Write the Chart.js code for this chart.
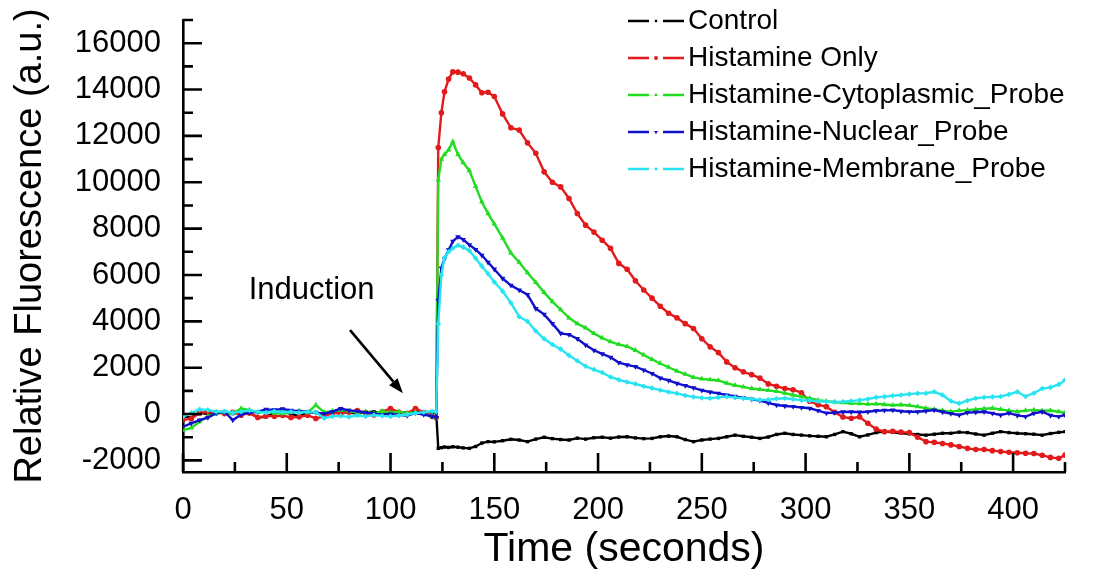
<!DOCTYPE html>
<html>
<head>
<meta charset="utf-8">
<title>Relative Fluorescence</title>
<script src="https://cdn.jsdelivr.net/npm/chart.js@4.4.0/dist/chart.umd.min.js"></script>
<style>
    html, body { margin: 0; padding: 0; background: #fff; }
    #wrap { width: 1095px; height: 588px; }
</style>
</head>
<body>
<div id="wrap"><canvas id="chart" width="1095" height="588"></canvas></div>
<script>
// Tempo de amostragem (segundos)
const timeSeconds = [
    0, 4, 8, 12, 16, 20, 24, 28, 32, 36, 40, 44, 48, 52, 56, 60, 64, 68, 72, 76,
    80, 84, 88, 92, 96, 100, 104, 108, 112, 116, 120, 122,
    123, 124.5, 126, 128, 130, 132.5, 135, 138, 141, 144, 147, 150,
    154, 158, 162, 166, 170, 174, 178, 182, 186, 190, 194, 198, 202, 206, 210, 214, 218, 222, 226, 230,
    234, 238, 242, 246, 250, 254, 258, 262, 266, 270, 274, 278, 282, 286, 290, 294, 298, 302, 306, 310,
    314, 318, 322, 326, 330, 334, 338, 342, 346, 350, 354, 358, 362, 366, 370, 374, 378, 382, 386, 390,
    394, 398, 402, 406, 410, 414, 418, 422, 425
];

const controlValues = [
    -100, -150, 50, 0, 80, 60, 20, 100, 60, -150, -120, 50, 80, 20, -100, 60, 80, -50, 40, 100,
    60, 20, 80, 100, 40, 60, 90, 50, 100, 90, 80, 80,
    -1480, -1450, -1420, -1440, -1410, -1430, -1460, -1480, -1400, -1250, -1190, -1200,
    -1150, -1090, -1120, -1190, -1080, -1000, -1060, -1100, -1120, -1040, -1080, -1020, -1000, -1040, -990, -980, -1030, -1060, -1050, -980,
    -950, -980, -1100, -1190, -1120, -1080, -1050, -980, -910, -960, -1000, -1050, -990, -880, -830, -880, -910, -940, -960, -980,
    -880, -760, -850, -980, -900, -800, -760, -790, -830, -850, -880, -910, -870, -830, -830, -780, -800, -860, -910, -830,
    -760, -800, -830, -850, -870, -910, -840, -790, -760
];

const histamineOnlyValues = [
    -250, -200, 50, 100, 60, 20, 80, -50, 50, -150, -80, -100, -60, -150, -120, -50, -190, -100, 50, 20,
    80, 150, 60, -40, 100, 240, 80, 20, 240, 60, -100, -160,
    11500, 13000, 13900, 14450, 14760, 14750, 14680, 14500, 14200, 13860, 13880, 13700,
    12950, 12350, 12250, 11700, 11250, 10450, 10000, 9800, 9300, 8650, 8150, 7850, 7500, 7150, 6500, 6250, 5750, 5350, 5000, 4650,
    4350, 4150, 3900, 3690, 3250, 2900, 2650, 2250, 2000, 1820, 1700, 1550, 1300, 1200, 1100, 1050, 920, 550, 400, 320,
    80, -130, -180, -120, -400, -650, -760, -740, -780, -800, -1000, -1190, -1220, -1270, -1330, -1400, -1480, -1530, -1530, -1580,
    -1620, -1650, -1670, -1690, -1700, -1780, -1870, -1910, -1770
];

const cytoplasmicValues = [
    -690, -600, -330, -100, 20, 80, 40, 240, 180, 60, 120, 40, 20, 80, 140, 60, 390, 80, 120, 170,
    140, 60, 100, 30, 120, 60, 100, 40, 80, 0, -100, -170,
    10100, 11000, 11200, 11400, 11750, 11200, 10850, 10500, 9820, 9150, 8650, 8200,
    7600, 6950, 6550, 6100, 5680, 5250, 4850, 4500, 4150, 3900, 3720, 3480, 3280, 3120, 3000, 2920, 2750, 2550, 2360, 2180,
    2020, 1850, 1720, 1580, 1520, 1480, 1450, 1330, 1240, 1170, 1100, 1060, 1020, 980, 900, 820, 750, 680, 600, 550,
    520, 490, 460, 450, 430, 440, 410, 380, 400, 370, 320, 250, 200, 150, 100, 150, 170, 200, 230, 250,
    200, 150, 100, 150, 180, 140, 150, 100, 60
];

const nuclearValues = [
    -545, -400, -260, -150, 40, 100, -260, -20, 60, 100, 200, 180, 220, 160, 120, 100, 60, 20, 100, 240,
    160, 120, 60, 20, -40, 0, -40, -60, 40, -20, -100, -150,
    4900, 6300, 6700, 7080, 7450, 7650, 7530, 7300, 7100, 6850, 6550, 6250,
    5850, 5550, 5350, 5150, 4550, 4300, 3900, 3480, 3430, 3250, 2980, 2750, 2600, 2450, 2220, 2120, 2050, 1900, 1750, 1550,
    1450, 1320, 1230, 1130, 1020, 950, 890, 820, 760, 700, 640, 580, 480, 390, 350, 320, 280, 250, 150, 40,
    60, 90, 100, 80, 100, 140, 160, 170, 120, 100, 100, 130, 170, 90, 20, -40, 60, 80, 100, 30,
    -40, 40, -60, -110, 30, 100, -60, -110, -40
];

const membraneValues = [
    -115, 50, 200, 180, 100, 120, 60, 100, 150, 100, 60, 120, 80, 100, 60, 100, 80, -180, -100, -80,
    -120, -60, -100, -40, -80, -100, -60, -20, 40, 80, 120, 100,
    3900, 6000, 6750, 7000, 7150, 7280, 7200, 7050, 6720, 6380, 6050, 5700,
    5300, 4800, 4200, 4000, 3580, 3250, 3000, 2800, 2530, 2300, 2060, 1920, 1790, 1600, 1480, 1380, 1300, 1200, 1120, 1030,
    950, 890, 800, 740, 700, 680, 720, 750, 710, 680, 650, 610, 620, 660, 680, 640, 600, 580, 550, 530,
    520, 530, 560, 600, 650, 720, 750, 790, 820, 860, 890, 900, 960, 820, 560, 460, 580, 680, 720, 740,
    760, 850, 960, 760, 900, 1100, 1150, 1280, 1470
];

const seriesNames = ['Control', 'Histamine Only', 'Histamine-Cytoplasmic_Probe', 'Histamine-Nuclear_Probe', 'Histamine-Membrane_Probe'];
const seriesValues = [controlValues, histamineOnlyValues, cytoplasmicValues, nuclearValues, membraneValues];

// Eixos
const xMajorTicks = [0, 50, 100, 150, 200, 250, 300, 350, 400];
const xMinorTicks = [25, 75, 125, 175, 225, 275, 325, 375, 425];
const yMajorTicks = [-2000, 0, 2000, 4000, 6000, 8000, 10000, 12000, 14000, 16000];
const yMinorTicks = [-1000, 1000, 3000, 5000, 7000, 9000, 11000, 13000, 15000, 17000];

// Anotação "Induction"
const inductionLabel = { text: 'Induction', x: 62, y: 4960 };
const inductionArrow = { fromX: 80.5, fromY: 3620, toX: 106, toY: 900 };

// Estilos
const seriesColors = ['#000000', '#e31a1c', '#22dc22', '#1010cc', '#28e4f0'];
const pointStyles = ['rect', 'circle', 'triangle', 'triangle', 'rectRot'];
const pointRotations = [0, 0, 0, 180, 0];
const pointRadii = [2.4, 2.8, 3.2, 3.2, 2.8];
const FONT = '"Liberation Sans", Arial, sans-serif';

// Ticks internos + legenda + seta
const decorPlugin = {
    id: 'decor',
    afterDatasetsDraw(chart) {
        const { ctx, chartArea, scales } = chart;
        const xs = scales.x, ys = scales.y;
        ctx.save();
        ctx.strokeStyle = '#000';
        ctx.lineWidth = 2.6;
        ctx.lineCap = 'butt';
        ctx.beginPath();
        xMajorTicks.forEach(v => {
            const px = xs.getPixelForValue(v);
            ctx.moveTo(px, chartArea.bottom);
            ctx.lineTo(px, chartArea.bottom - 19);
        });
        xMinorTicks.forEach(v => {
            const px = xs.getPixelForValue(v);
            ctx.moveTo(px, chartArea.bottom);
            ctx.lineTo(px, chartArea.bottom - 10);
        });
        yMajorTicks.forEach(v => {
            const py = ys.getPixelForValue(v);
            ctx.moveTo(chartArea.left, py);
            ctx.lineTo(chartArea.left + 19, py);
        });
        yMinorTicks.forEach(v => {
            const py = ys.getPixelForValue(v);
            ctx.moveTo(chartArea.left, py);
            ctx.lineTo(chartArea.left + 10, py);
        });
        ctx.stroke();

        // Seta
        const ax1 = xs.getPixelForValue(inductionArrow.fromX);
        const ay1 = ys.getPixelForValue(inductionArrow.fromY);
        const ax2 = xs.getPixelForValue(inductionArrow.toX);
        const ay2 = ys.getPixelForValue(inductionArrow.toY);
        const ang = Math.atan2(ay2 - ay1, ax2 - ax1);
        const headLen = 15, headW = 5.5;
        ctx.beginPath();
        ctx.moveTo(ax1, ay1);
        ctx.lineTo(ax2 - headLen * Math.cos(ang), ay2 - headLen * Math.sin(ang));
        ctx.stroke();
        ctx.fillStyle = '#000';
        ctx.beginPath();
        ctx.moveTo(ax2, ay2);
        ctx.lineTo(ax2 - headLen * Math.cos(ang) + headW * Math.sin(ang), ay2 - headLen * Math.sin(ang) - headW * Math.cos(ang));
        ctx.lineTo(ax2 - headLen * Math.cos(ang) - headW * Math.sin(ang), ay2 - headLen * Math.sin(ang) + headW * Math.cos(ang));
        ctx.closePath();
        ctx.fill();

        ctx.font = '31px ' + FONT;
        ctx.textAlign = 'center';
        ctx.textBaseline = 'alphabetic';
        ctx.fillText(inductionLabel.text, xs.getPixelForValue(inductionLabel.x), ys.getPixelForValue(inductionLabel.y));

        // Legenda
        const legendX = 628, legendTop = 21, legendStep = 37;
        ctx.font = '28px ' + FONT;
        ctx.textAlign = 'left';
        ctx.textBaseline = 'middle';
        seriesNames.forEach((name, i) => {
            const y = legendTop + i * legendStep;
            ctx.strokeStyle = seriesColors[i];
            ctx.fillStyle = seriesColors[i];
            ctx.lineWidth = 2.5;
            ctx.beginPath();
            ctx.moveTo(legendX, y);
            ctx.lineTo(legendX + 21, y);
            ctx.moveTo(legendX + 35, y);
            ctx.lineTo(legendX + 56, y);
            ctx.stroke();
            Chart.helpers.drawPoint(ctx, {
                pointStyle: pointStyles[i],
                rotation: pointRotations[i],
                radius: pointRadii[i] * 0.7,
                borderWidth: 0
            }, legendX + 28, y);
            ctx.fillStyle = '#000';
            ctx.fillText(name, legendX + 60, y);
        });
        ctx.restore();
    }
};

const datasets = seriesNames.map((name, i) => ({
    label: name,
    data: timeSeconds.map((t, j) => ({ x: t, y: seriesValues[i][j] })),
    borderColor: seriesColors[i],
    backgroundColor: seriesColors[i],
    borderWidth: 2.4,
    showLine: true,
    tension: 0,
    pointStyle: pointStyles[i],
    pointRotation: pointRotations[i],
    pointRadius: pointRadii[i],
    pointBorderWidth: 0,
    order: 5 - i
}));

new Chart(document.getElementById('chart'), {
    type: 'scatter',
    data: { datasets: datasets },
    options: {
        responsive: false,
        animation: false,
        devicePixelRatio: 1,
        layout: { padding: { left: 0, right: 30, top: 20, bottom: 0 } },
        plugins: {
            legend: { display: false },
            tooltip: { enabled: false }
        },
        scales: {
            x: {
                type: 'linear',
                min: 0,
                max: 425,
                afterBuildTicks: scale => { scale.ticks = xMajorTicks.map(v => ({ value: v })); },
                afterFit: scale => {
                    scale.height = 116;
                    scale.paddingLeft = 0;
                    scale.paddingRight = 0;
                },
                ticks: {
                    color: '#000',
                    font: { family: FONT, size: 31 },
                    padding: 20,
                    maxRotation: 0,
                    callback: v => String(v)
                },
                grid: { drawOnChartArea: false, drawTicks: false },
                border: { display: true, color: '#000', width: 2.6 },
                title: {
                    display: true,
                    text: 'Time (seconds)',
                    color: '#000',
                    font: { family: FONT, size: 41 },
                    padding: { top: 0, bottom: 14 }
                }
            },
            y: {
                type: 'linear',
                min: -2500,
                max: 17000,
                afterBuildTicks: scale => { scale.ticks = yMajorTicks.map(v => ({ value: v })); },
                afterFit: scale => {
                    scale.width = 183;
                    scale.paddingTop = 0;
                    scale.paddingBottom = 0;
                },
                ticks: {
                    color: '#000',
                    font: { family: FONT, size: 31 },
                    padding: 22,
                    callback: v => String(v)
                },
                grid: { drawOnChartArea: false, drawTicks: false },
                border: { display: true, color: '#000', width: 2.6 },
                title: {
                    display: true,
                    text: 'Relative Fluorescence (a.u.)',
                    color: '#000',
                    font: { family: FONT, size: 38 },
                    padding: { top: 8, bottom: 0 }
                }
            }
        }
    },
    plugins: [decorPlugin]
});
</script>
</body>
</html>
